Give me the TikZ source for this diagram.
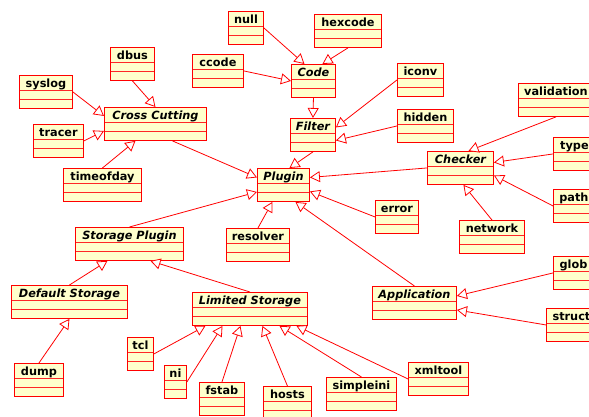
\documentclass[tikz,border=0pt]{standalone}
\usepackage{fontspec}
\setmainfont{DejaVu Sans}
\usetikzlibrary{arrows.meta}
\definecolor{clsfill}{RGB}{255,255,204}
\newcommand{\clsfont}{\fontsize{11.3}{13}\selectfont\bfseries}
\tikzset{
  cls/.style={draw=red, line width=0.9pt, fill=clsfill, anchor=north west,
    inner xsep=0pt, inner ysep=0pt, minimum width=#1, text height=11.7pt, text depth=21.3pt,
    font=\clsfont,
    path picture={
      \draw[red!85, line width=0.8pt] ([yshift=-15pt]path picture bounding box.north west) -- ([yshift=-15pt]path picture bounding box.north east);
      \draw[red!85, line width=0.8pt] ([yshift=-24pt]path picture bounding box.north west) -- ([yshift=-24pt]path picture bounding box.north east);
    }},
  abs/.style={cls=#1, font=\clsfont\itshape},
  gen/.style={draw=red, line width=0.8pt, -{Triangle[length=10pt, width=11pt, fill=white]}}
}
\begin{document}
\begin{tikzpicture}[x=1pt, y=-1pt]
\useasboundingbox (0,0) rectangle (589,417);
\fill[white] (0,0) rectangle (589,417);
\clip (0,0) rectangle (589,417);

\node[cls=35] (null) at (228,11) {null};
\node[cls=67] (hexcode) at (314,14) {hexcode};
\node[cls=44] (dbus) at (110,47) {dbus};
\node[cls=51] (ccode) at (192,54) {ccode};
\node[abs=44] (code) at (291,64) {Code};
\node[cls=46] (iconv) at (397,63) {iconv};
\node[cls=53] (syslog) at (19,75) {syslog};
\node[cls=75] (validation) at (518,83) {validation};
\node[abs=102] (cc) at (104,107) {Cross Cutting};
\node[abs=45] (filter) at (290,118) {Filter};
\node[cls=56] (hidden) at (397,109) {hidden};
\node[cls=50] (tracer) at (33,124) {tracer};
\node[cls=42] (type) at (553,137) {type};
\node[abs=66] (checker) at (427,151) {Checker};
\node[abs=52] (plugin) at (257,168) {Plugin};
\node[cls=78] (timeofday) at (63,168) {timeofday};
\node[cls=41] (path) at (553,189) {path};
\node[cls=43] (error) at (375,200) {error};
\node[cls=65] (network) at (459,220) {network};
\node[abs=108] (sp) at (75,227) {Storage Plugin};
\node[cls=63] (resolver) at (226,228) {resolver};
\node[cls=40] (glob) at (553,256) {glob};
\node[abs=116] (ds) at (11,285) {Default Storage};
\node[abs=84] (app) at (372,286) {Application};
\node[abs=115] (ls) at (192,292) {Limited Storage};
\node[cls=50] (struct) at (546,308) {struct};
\node[cls=26] (tcl) at (127,337) {tcl};
\node[cls=22] (ni) at (164,365) {ni};
\node[cls=60] (xmltool) at (408,362) {xmltool};
\node[cls=49] (dump) at (14,363) {dump};
\node[cls=70] (simpleini) at (326,377) {simpleini};
\node[cls=45] (fstab) at (199,382) {fstab};
\node[cls=48] (hosts) at (263,386) {hosts};

\draw[gen] (syslog.east) -- ([yshift=8pt]cc.west);
\draw[gen] (tracer.east) -- ([yshift=-7pt]cc.west);
\draw[gen] (dbus.south) -- (cc.north);
\draw[gen] (timeofday.north) -- ([xshift=-20pt]cc.south);
\draw[gen] ([xshift=17pt]cc.south) -- ([yshift=7.5pt]plugin.west);
\draw[gen] (sp.north) -- ([yshift=-7pt]plugin.west);
\draw[gen] (null.east) -- ([xshift=-9pt]code.north);
\draw[gen] (hexcode.south) -- ([xshift=9pt]code.north);
\draw[gen] (ccode.east) -- (code.west);
\draw[gen] (code.south) -- (filter.north);
\draw[gen] (iconv.west) -- ([yshift=7.5pt]filter.east);
\draw[gen] (hidden.west) -- ([yshift=-5.5pt]filter.east);
\draw[gen] (filter.south) -- ([xshift=6pt]plugin.north);
\draw[gen] (checker.west) -- ([yshift=7.5pt]plugin.east);
\draw[gen] (validation.south) -- ([xshift=8pt]checker.north);
\draw[gen] (type.west) -- ([yshift=5.5pt]checker.east);
\draw[gen] (path.west) -- ([yshift=-7.5pt]checker.east);
\draw[gen] (network.north) -- ([xshift=3pt]checker.south);
\draw[gen] (error.west) -- ([yshift=-6.5pt]plugin.east);
\draw[gen] (resolver.north) -- ([xshift=-11pt]plugin.south);
\draw[gen] (app.north) -- ([xshift=12pt]plugin.south);
\draw[gen] (ds.north) -- ([xshift=-22pt]sp.south);
\draw[gen] (ls.north) -- ([xshift=21pt]sp.south);
\draw[gen] (dump.north) -- (ds.south);
\draw[gen] (tcl.east) -- ([xshift=-44.5pt]ls.south);
\draw[gen] (ni.east) -- ([xshift=-27.5pt]ls.south);
\draw[gen] (fstab.north) -- ([xshift=-9.5pt]ls.south);
\draw[gen] (hosts.north) -- ([xshift=12.5pt]ls.south);
\draw[gen] (simpleini.north) -- ([xshift=29.5pt]ls.south);
\draw[gen] (xmltool.west) -- ([xshift=46.5pt]ls.south);
\draw[gen] (glob.west) -- ([yshift=7pt]app.east);
\draw[gen] (struct.west) -- ([yshift=-7pt]app.east);
\end{tikzpicture}
\end{document}
